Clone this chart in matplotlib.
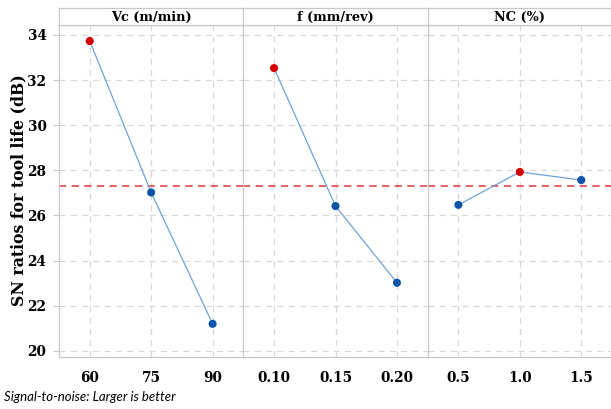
import matplotlib.pyplot as plt

factors = ['Vc (m/min)', 'f (mm/rev)', 'NC (%)']
levels = [['60', '75', '90'], ['0.10', '0.15', '0.20'], ['0.5', '1.0', '1.5']]
sn_vc = [33.73, 27.02, 21.20]
sn_f = [32.53, 26.42, 23.02]
sn_nc = [26.47, 27.93, 27.57]
sn_all = [sn_vc, sn_f, sn_nc]
yticks = [20, 22, 24, 26, 28, 30, 32, 34]

mean_sn = sum(sn_vc) / len(sn_vc)

W, H = 611, 409
fig = plt.figure(figsize=(W / 100, H / 100), dpi=100)

serif = 'DejaVu Serif'
grid_c = '#d9d9d9'
edge_c = '#c8c8c8'
line_c = '#6fa3d8'
blue = '#0b55a8'
red = '#d40000'

left, right = 59, 612
bot, top, strip_top = 357, 25, 8
pw = (right - left) / 3

for i in range(3):
    x0 = left + i * pw
    ax = fig.add_axes([x0 / W, 1 - bot / H, pw / W, (bot - top) / H])
    vals = sn_all[i]
    xs = [1, 2, 3]
    ax.plot(xs, vals, color=line_c, lw=0.9, zorder=3)
    best = vals.index(max(vals))
    cols = [red if k == best else blue for k in range(3)]
    ax.scatter(xs, vals, s=34, c=cols, zorder=4, linewidths=0)
    ax.axhline(mean_sn, color='#e05555', lw=1.3, ls=(0, (4, 3)), zorder=2)
    ax.set_xlim(0.5, 3.5)
    ax.set_ylim(19.73, 34.44)
    ax.set_xticks(xs)
    ax.set_xticklabels(levels[i], fontfamily=serif, fontweight='bold', fontsize=9.8)
    ax.set_yticks(yticks)
    ax.grid(True, color=grid_c, ls=(0, (5, 4)), lw=0.9)
    ax.set_axisbelow(True)
    for s in ax.spines.values():
        s.set_color(edge_c)
        s.set_linewidth(0.9)
    ax.spines['right'].set_visible(False)
    ax.tick_params(axis='x', length=0, pad=10)
    if i == 0:
        ax.set_yticklabels([str(t) for t in yticks], fontfamily=serif, fontweight='bold', fontsize=9.8)
        ax.tick_params(axis='y', length=4, color=edge_c, pad=5)
    else:
        ax.tick_params(axis='y', length=0, labelleft=False)

    # factor header strip
    sax = fig.add_axes([x0 / W, 1 - top / H, pw / W, (top - strip_top) / H])
    sax.set_xticks([])
    sax.set_yticks([])
    for s in sax.spines.values():
        s.set_color(edge_c)
        s.set_linewidth(0.9)
    sax.spines['right'].set_visible(False)
    sax.text(0.5, 0.45, factors[i], ha='center', va='center', fontfamily=serif,
             fontweight='bold', fontsize=9.3, transform=sax.transAxes)

fig.text(19 / W, 1 - 190 / H, 'SN ratios for tool life (dB)', rotation=90,
         ha='center', va='center', fontfamily=serif, fontweight='bold', fontsize=11.3)

fig.text(4 / W, 1 - 397 / H, 'Signal-to-noise: Larger is better', fontfamily='Lato',
         fontstyle='italic', fontsize=9.5, va='center', ha='left')

fig.savefig('out.png', dpi=100)
